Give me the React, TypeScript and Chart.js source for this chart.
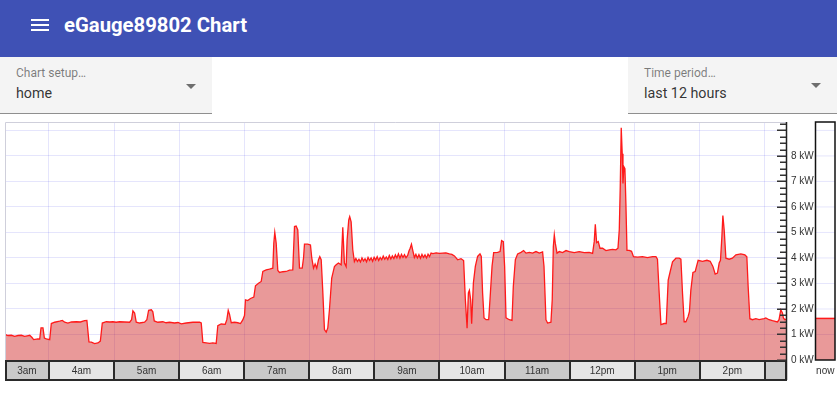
import React, { useEffect, useRef } from "react";
import { Chart, registerables } from "chart.js";

Chart.register(...registerables);

// ---- data (time = minutes since midnight, value = kW) ----
const RANGE_START = 139.5; // 2:19:30am
const RANGE_END = 859.5; // 2:19:30pm
const Y_MAX = 9.33;
const NOW_KW = 1.63;
const NOW_LABEL = "now";

const HOUR_LABELS = ["3am", "4am", "5am", "6am", "7am", "8am", "9am", "10am", "11am", "12pm", "1pm", "2pm"];
const HOUR_BOUNDARIES = [180, 240, 300, 360, 420, 480, 540, 600, 660, 720, 780, 840];
const Y_TICK_LABELS = ["0 kW", "1 kW", "2 kW", "3 kW", "4 kW", "5 kW", "6 kW", "7 kW", "8 kW"];

const POWER_READINGS: [number, number][] = [
  [139.5, 1.0], [142.3, 0.96], [145.4, 0.97], [148.4, 0.93], [151.5, 0.96], [154.6, 0.97], [157.6, 0.93], [160.0, 0.95],
  [162.3, 0.97], [164.4, 0.88], [165.9, 0.8], [169.9, 0.83], [171.5, 0.82], [172.7, 1.26], [174.5, 1.26], [175.8, 0.86],
  [177.6, 0.83], [180.7, 0.8], [182.2, 1.43], [185.3, 1.48], [189.9, 1.52], [192.4, 1.55], [194.5, 1.48], [197.5, 1.45],
  [200.7, 1.49], [205.3, 1.5], [209.0, 1.49], [212.9, 1.54], [215.0, 1.55], [216.9, 0.71], [219.1, 0.7], [222.1, 0.64],
  [225.2, 0.67], [227.4, 0.74], [229.2, 1.45], [232.9, 1.5], [236.0, 1.49], [239.0, 1.5], [242.0, 1.48], [245.2, 1.5],
  [249.8, 1.49], [254.4, 1.48], [256.2, 1.58], [257.4, 1.93], [259.0, 1.84], [260.5, 1.48], [263.6, 1.45], [268.2, 1.48],
  [270.3, 1.58], [271.9, 1.95], [274.4, 1.97], [275.8, 1.89], [277.1, 1.53], [280.4, 1.48], [285.0, 1.5], [288.0, 1.46],
  [291.2, 1.48], [295.8, 1.45], [299.0, 1.47], [302.0, 1.42], [306.6, 1.45], [312.7, 1.48], [318.9, 1.48], [320.4, 1.45],
  [321.9, 0.69], [325.0, 0.67], [328.1, 0.65], [331.1, 0.67], [334.2, 0.65], [335.7, 1.35], [338.8, 1.41], [342.5, 1.4],
  [344.0, 1.58], [345.3, 1.95], [346.5, 1.79], [348.1, 1.46], [351.1, 1.48], [354.1, 1.46], [356.6, 1.43], [358.7, 1.57],
  [360.3, 1.74], [361.2, 2.36], [363.3, 2.33], [365.8, 2.41], [368.9, 2.47], [370.4, 2.91], [373.2, 3.01], [375.7, 3.08],
  [377.2, 3.47], [380.3, 3.53], [383.3, 3.56], [386.4, 3.6], [387.3, 4.58], [388.2, 5.0], [389.5, 4.58], [391.0, 3.51],
  [392.6, 3.43], [395.6, 3.46], [398.7, 3.47], [401.8, 3.52], [404.8, 3.53], [406.4, 5.23], [407.9, 5.25], [409.4, 5.1],
  [411.0, 3.6], [413.5, 3.6], [414.7, 4.0], [415.6, 4.54], [418.6, 4.54], [421.1, 4.51], [422.3, 4.0], [423.9, 3.6],
  [425.4, 3.76], [426.9, 3.6], [428.5, 3.93], [429.7, 4.05], [431.0, 3.93], [432.4, 2.75], [434.0, 1.19], [435.6, 1.09],
  [437.1, 1.26], [438.6, 1.97], [440.7, 3.21], [443.2, 3.66], [444.8, 3.73], [446.9, 3.8], [449.4, 3.73], [450.9, 5.2],
  [452.4, 3.8], [454.0, 3.66], [454.9, 4.71], [456.4, 5.49], [457.3, 5.62], [458.6, 5.42], [460.1, 4.32], [461.6, 3.86],
  [463.0, 3.98], [464.4, 3.86], [465.8, 3.95], [467.2, 3.84], [468.6, 4.0], [470.0, 3.88], [471.4, 3.97], [472.8, 3.85],
  [474.2, 4.02], [475.6, 3.9], [477.0, 4.0], [478.4, 3.87], [479.8, 4.03], [481.2, 3.92], [482.6, 4.05], [484.0, 3.9],
  [485.4, 4.02], [486.8, 3.93], [488.2, 4.07], [489.6, 3.95], [491.0, 4.04], [492.4, 3.94], [493.8, 4.1], [495.2, 3.96],
  [496.6, 4.08], [498.0, 3.98], [499.4, 4.12], [500.8, 4.0], [502.2, 4.16], [503.6, 3.99], [505.0, 4.14], [506.4, 4.02],
  [507.8, 4.13], [509.2, 4.01], [510.7, 4.1], [512.0, 4.28], [513.0, 4.38], [514.2, 4.54], [515.4, 4.3], [516.9, 4.02],
  [518.3, 4.14], [519.7, 4.0], [521.1, 4.13], [522.5, 3.99], [523.9, 4.14], [525.3, 4.02], [526.7, 4.12], [528.1, 4.0],
  [529.5, 4.15], [530.9, 4.05], [532.3, 4.19], [534.0, 4.17], [536.9, 4.2], [540.0, 4.18], [543.0, 4.19], [546.0, 4.2],
  [549.2, 4.16], [551.5, 4.14], [553.8, 4.08], [556.8, 3.93], [559.9, 3.97], [562.3, 3.9], [563.9, 2.36], [565.5, 1.25],
  [566.7, 2.63], [567.6, 2.73], [568.8, 2.36], [569.7, 1.42], [571.3, 3.02], [573.1, 3.67], [575.2, 4.06], [577.4, 4.16],
  [578.6, 4.06], [579.8, 2.63], [581.1, 1.65], [583.0, 1.58], [585.4, 1.58], [586.6, 2.36], [588.5, 3.67], [590.0, 4.21],
  [593.6, 4.22], [595.9, 4.25], [597.3, 4.68], [598.9, 4.64], [600.1, 3.67], [601.4, 1.65], [604.4, 1.58], [606.9, 1.55],
  [608.1, 2.88], [610.0, 3.93], [612.1, 4.16], [615.2, 4.22], [617.6, 4.29], [619.8, 4.19], [622.9, 4.22], [625.9, 4.19],
  [629.0, 4.25], [632.1, 4.19], [635.1, 4.24], [636.4, 3.67], [638.2, 1.58], [639.7, 1.45], [642.8, 1.48], [644.0, 2.36],
  [645.0, 4.45], [645.9, 4.9], [646.8, 4.58], [648.4, 4.19], [650.5, 4.25], [653.5, 4.21], [656.7, 4.29], [659.7, 4.25],
  [664.3, 4.21], [668.9, 4.25], [673.5, 4.21], [678.1, 4.22], [681.2, 4.18], [682.7, 4.64], [683.7, 5.32], [684.9, 4.6],
  [686.4, 4.64], [688.0, 4.38], [690.4, 4.38], [693.5, 4.29], [696.6, 4.32], [699.6, 4.34], [702.7, 4.32], [704.6, 4.38],
  [705.8, 5.1], [706.7, 6.79], [707.6, 9.1], [708.5, 8.09], [709.2, 6.92], [710.1, 7.57], [711.0, 7.5], [711.9, 6.14],
  [712.9, 4.3], [715.0, 4.3], [717.1, 4.26], [718.9, 4.05], [722.6, 4.03], [727.2, 4.05], [731.8, 4.01], [736.4, 4.05],
  [739.6, 4.05], [741.0, 3.95], [742.6, 2.62], [744.2, 1.39], [747.2, 1.43], [749.1, 1.43], [750.9, 3.13], [752.7, 3.46],
  [754.9, 3.85], [758.0, 3.99], [761.0, 3.99], [762.6, 3.95], [764.1, 2.62], [765.6, 1.5], [767.2, 1.5], [769.3, 1.71],
  [770.5, 1.9], [771.8, 2.75], [773.7, 3.43], [775.8, 3.47], [778.5, 3.91], [782.5, 3.87], [786.6, 3.91], [789.6, 3.87],
  [792.1, 3.67], [794.2, 3.37], [796.3, 3.41], [797.9, 3.8], [799.1, 3.91], [800.4, 4.84], [801.3, 5.66], [802.5, 5.1],
  [804.1, 3.99], [807.1, 3.95], [810.1, 3.99], [813.3, 4.12], [817.9, 4.16], [821.6, 4.12], [823.4, 4.05], [824.6, 2.88],
  [826.2, 1.62], [828.6, 1.58], [831.7, 1.62], [834.7, 1.58], [839.3, 1.62], [840.9, 1.65], [843.9, 1.58], [847.0, 1.54],
  [851.6, 1.49], [853.1, 1.58], [854.7, 1.97], [856.2, 1.84], [857.1, 1.65], [858.4, 1.58], [859.5, 1.6],
];

// ---- styles ----
const LINE_COLOR = "#ff1a1a";
const FILL_COLOR = "rgba(200,0,0,0.4)";
const GRID_COLOR = "rgba(0,0,230,0.1)";
const AXIS_FONT = "Liberation Sans, Arial, sans-serif";

const overlayPlugin = {
  id: "egaugeOverlay",
  afterDraw(chart: any) {
    const { ctx, chartArea: a, scales } = chart;
    const xs = scales.x;
    const ys = scales.y;
    ctx.save();

    // plot border (top + left)
    ctx.strokeStyle = "#cfcfdb";
    ctx.lineWidth = 1;
    ctx.beginPath();
    ctx.moveTo(a.left + 0.5, a.bottom);
    ctx.lineTo(a.left + 0.5, a.top + 0.5);
    ctx.lineTo(a.right, a.top + 0.5);
    ctx.stroke();

    // hour strip
    const stripTop = a.bottom + 1;
    const stripH = 19;
    const edges = [RANGE_START, ...HOUR_BOUNDARIES, RANGE_END];
    ctx.font = `10px ${AXIS_FONT}`;
    ctx.textAlign = "center";
    ctx.textBaseline = "middle";
    for (let i = 0; i < edges.length - 1; i++) {
      const x0 = xs.getPixelForValue(edges[i]);
      const x1 = xs.getPixelForValue(edges[i + 1]);
      ctx.fillStyle = i % 2 === 0 ? "#c9c9c9" : "#e5e5e5";
      ctx.fillRect(x0, stripTop, x1 - x0, stripH);
      if (HOUR_LABELS[i]) {
        ctx.fillStyle = "#333";
        ctx.fillText(HOUR_LABELS[i], (x0 + x1) / 2, stripTop + stripH / 2 + 0.5);
      }
    }
    ctx.strokeStyle = "#2a2a2a";
    ctx.lineWidth = 2;
    ctx.strokeRect(a.left + 1, stripTop, a.right - a.left - 1, stripH);
    ctx.beginPath();
    for (const b of HOUR_BOUNDARIES) {
      const px = Math.round(xs.getPixelForValue(b));
      ctx.moveTo(px, stripTop);
      ctx.lineTo(px, stripTop + stripH);
    }
    ctx.stroke();

    // y-axis minor/major ticks (inside the plot)
    ctx.strokeStyle = "#333";
    ctx.lineWidth = 1.5;
    ctx.beginPath();
    const steps = Math.floor(Y_MAX * 4);
    for (let i = 0; i <= steps; i++) {
      const v = i / 4;
      const py = Math.round(ys.getPixelForValue(v)) + 0.25;
      const len = i % 4 === 0 ? 9 : 6;
      ctx.moveTo(a.right - len, py);
      ctx.lineTo(a.right, py);
    }
    ctx.stroke();

    // y-axis line
    ctx.strokeStyle = "#222";
    ctx.lineWidth = 1.5;
    ctx.beginPath();
    ctx.moveTo(a.right + 0.5, a.top);
    ctx.lineTo(a.right + 0.5, stripTop + stripH);
    ctx.stroke();

    // "now" box
    const nL = 815.5;
    const nR = 835;
    const nowY = ys.getPixelForValue(NOW_KW);
    ctx.fillStyle = "#fff";
    ctx.fillRect(nL, a.top, nR - nL, a.bottom - a.top);
    ctx.strokeStyle = GRID_COLOR;
    ctx.lineWidth = 1;
    ctx.beginPath();
    for (let v = 1; v <= Math.floor(Y_MAX); v++) {
      const py = ys.getPixelForValue(v);
      ctx.moveTo(nL, py);
      ctx.lineTo(nR, py);
    }
    ctx.stroke();
    ctx.fillStyle = FILL_COLOR;
    ctx.fillRect(nL, nowY, nR - nL, a.bottom - nowY);
    ctx.strokeStyle = LINE_COLOR;
    ctx.lineWidth = 1.5;
    ctx.beginPath();
    ctx.moveTo(nL, nowY);
    ctx.lineTo(nR, nowY);
    ctx.stroke();
    ctx.strokeStyle = "#111";
    ctx.lineWidth = 1.5;
    ctx.strokeRect(nL, a.top, nR - nL, a.bottom - a.top);
    ctx.fillStyle = "#333";
    ctx.fillText(NOW_LABEL, (nL + nR) / 2, stripTop + stripH / 2 + 0.5);

    ctx.restore();
  },
};

function Select({ left, width, label, value, arrowTop }: { left: number; width: number; label: string; value: string; arrowTop: number }) {
  return (
    <div
      style={{
        position: "absolute",
        left,
        top: 57,
        width,
        height: 56,
        background: "#f4f4f4",
        borderBottom: "1px solid #8f8f8f",
      }}
    >
      <div
        style={{
          position: "absolute",
          left: 16,
          top: 8.6,
          fontSize: 12,
          lineHeight: "14px",
          color: "rgba(0,0,0,0.5)",
          whiteSpace: "nowrap",
        }}
      >
        {label}
      </div>
      <div
        style={{
          position: "absolute",
          left: 16,
          top: 27.5,
          fontSize: 14.3,
          lineHeight: "17px",
          color: "rgba(0,0,0,0.8)",
          whiteSpace: "nowrap",
        }}
      >
        {value}
      </div>
      <div
        style={{
          position: "absolute",
          left: width - 26,
          top: arrowTop,
          width: 0,
          height: 0,
          borderLeft: "5px solid transparent",
          borderRight: "5px solid transparent",
          borderTop: "5px solid rgba(0,0,0,0.55)",
        }}
      />
    </div>
  );
}

export default function App() {
  const canvasRef = useRef<HTMLCanvasElement>(null);

  useEffect(() => {
    document.body.style.margin = "0";
    const canvas = canvasRef.current;
    if (!canvas) return;
    const chart = new Chart(canvas, {
      type: "line",
      data: {
        datasets: [
          {
            data: POWER_READINGS.map(([t, v]) => ({ x: t, y: v })),
            borderColor: LINE_COLOR,
            borderWidth: 1.3,
            backgroundColor: FILL_COLOR,
            fill: "origin",
            pointRadius: 0,
            tension: 0,
          },
        ],
      },
      options: {
        animation: false,
        responsive: false,
        maintainAspectRatio: false,
        layout: { padding: { left: 5, top: 0, right: 0, bottom: 0 } },
        plugins: { legend: { display: false }, tooltip: { enabled: false } },
        scales: {
          x: {
            type: "linear",
            min: RANGE_START,
            max: RANGE_END,
            ticks: { display: false },
            grid: { color: GRID_COLOR, lineWidth: 1, drawTicks: false },
            border: { display: false },
            afterBuildTicks: (s: any) => {
              s.ticks = HOUR_BOUNDARIES.map((v) => ({ value: v }));
            },
            afterFit: (s: any) => {
              s.height = 34;
            },
          },
          y: {
            position: "right",
            min: 0,
            max: Y_MAX,
            ticks: {
              stepSize: 1,
              includeBounds: false,
              padding: 5,
              color: "#333",
              font: { family: AXIS_FONT, size: 10 },
              callback: (v: any) => Y_TICK_LABELS[v as number] ?? "",
            },
            grid: { color: GRID_COLOR, lineWidth: 1, drawTicks: false },
            border: { display: false },
            afterFit: (s: any) => {
              s.width = 51;
            },
          },
        },
      },
      plugins: [overlayPlugin],
    } as any);
    return () => chart.destroy();
  }, []);

  return (
    <div
      style={{
        position: "relative",
        width: 837,
        height: 394,
        overflow: "hidden",
        background: "#fff",
        fontFamily: "Roboto, 'Noto Sans', sans-serif",
      }}
    >
      <div style={{ position: "absolute", left: 0, top: 0, width: 837, height: 57, background: "#3f51b5" }}>
        {[19, 24, 29].map((t) => (
          <div key={t} style={{ position: "absolute", left: 31, top: t, width: 18, height: 2, background: "#fff" }} />
        ))}
        <div
          style={{
            position: "absolute",
            left: 64,
            top: 13,
            fontSize: 20.3,
            fontWeight: 700,
            lineHeight: "24px",
            color: "#fff",
            whiteSpace: "nowrap",
          }}
        >
          eGauge89802 Chart
        </div>
      </div>
      <Select left={0} width={212} label="Chart setup…" value="home" arrowTop={27} />
      <Select left={628} width={209} label="Time period…" value="last 12 hours" arrowTop={26} />
      <canvas
        ref={canvasRef}
        width={837}
        height={283}
        style={{ position: "absolute", left: 0, top: 111, width: 837, height: 283 }}
      />
    </div>
  );
}
